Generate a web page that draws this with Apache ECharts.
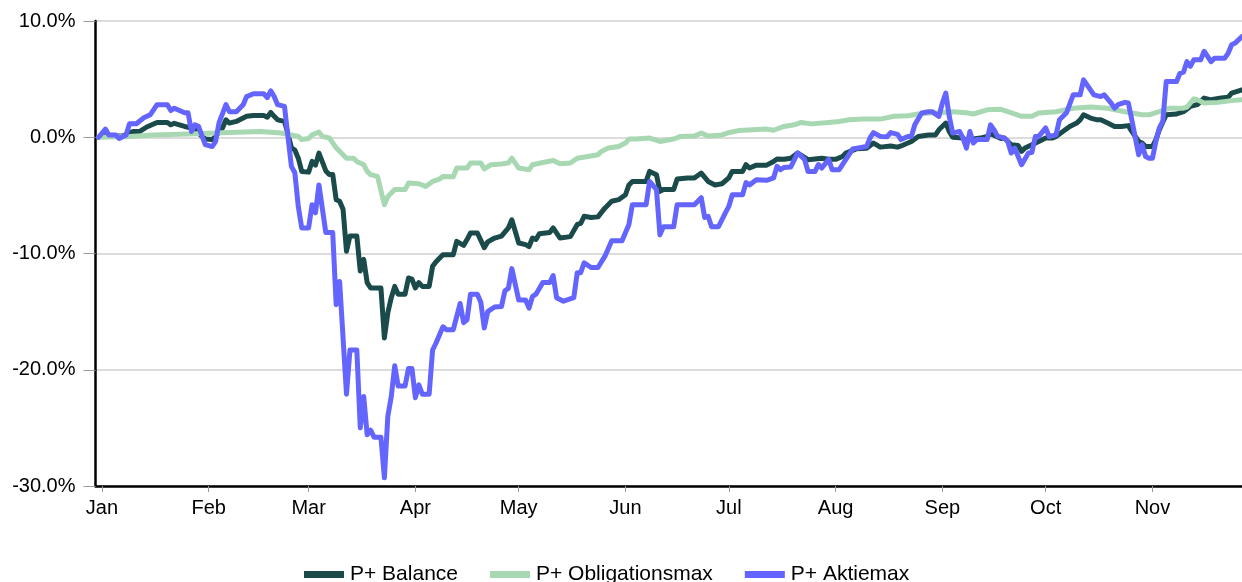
<!DOCTYPE html>
<html>
<head>
<meta charset="utf-8">
<script src="https://cdn.jsdelivr.net/npm/echarts@6/dist/echarts.min.js"></script>
<style>
html,body{margin:0;padding:0;background:#fff;}
#chart{width:1242px;height:582px;}
</style>
</head>
<body>
<div id="chart"></div>
<script>
// Cumulative return (%) per date, 2020
const seriesNames = ['P+ Balance', 'P+ Obligationsmax', 'P+ Aktiemax'];
const monthLabels = ['Jan','Feb','Mar','Apr','May','Jun','Jul','Aug','Sep','Oct','Nov','Dec'];
const yTicks = [-30, -20, -10, 0, 10];

const balance = [
['2019-12-31',0],['2020-01-02',0.2],['2020-01-05',0.1],['2020-01-07',0.1],['2020-01-09',0.36],['2020-01-10',0.5],
['2020-01-12',0.5],['2020-01-14',0.88],['2020-01-17',1.27],['2020-01-20',1.27],['2020-01-21',1.07],['2020-01-22',1.2],
['2020-01-25',0.93],['2020-01-27',0.8],['2020-01-28',0.65],['2020-01-29',0.36],['2020-01-31',-0.15],['2020-02-02',-0.2],
['2020-02-03',0.07],['2020-02-05',0.8],['2020-02-06',1.5],['2020-02-07',1.22],['2020-02-09',1.36],['2020-02-12',1.8],
['2020-02-14',1.87],['2020-02-17',1.87],['2020-02-18',1.73],['2020-02-19',2.13],['2020-02-20',1.8],['2020-02-21',1.5],
['2020-02-23',1.36],['2020-02-24',0.3],['2020-02-25',-0.9],['2020-02-26',-1.1],['2020-02-27',-1.8],['2020-02-28',-2.94],
['2020-03-01',-3.0],['2020-03-02',-2.08],['2020-03-03',-2.4],['2020-03-04',-1.36],['2020-03-06',-2.9],['2020-03-07',-3.2],
['2020-03-08',-3.2],['2020-03-09',-5.37],['2020-03-10',-5.5],['2020-03-11',-6.2],['2020-03-12',-9.8],['2020-03-13',-8.5],
['2020-03-15',-8.5],['2020-03-16',-11.5],['2020-03-17',-10.5],['2020-03-18',-12.5],['2020-03-19',-12.97],['2020-03-22',-12.97],
['2020-03-23',-17.27],['2020-03-24',-15.1],['2020-03-25',-13.8],['2020-03-26',-12.83],['2020-03-27',-13.5],['2020-03-29',-13.5],
['2020-03-30',-12.1],['2020-03-31',-12.2],['2020-04-01',-12.97],['2020-04-02',-12.5],['2020-04-03',-12.83],['2020-04-05',-12.83],
['2020-04-06',-11.1],['2020-04-07',-10.7],['2020-04-09',-10.1],['2020-04-12',-10.1],['2020-04-13',-8.96],['2020-04-15',-9.3],
['2020-04-16',-8.8],['2020-04-17',-8.24],['2020-04-19',-8.24],['2020-04-21',-9.5],['2020-04-22',-9.0],['2020-04-24',-8.67],
['2020-04-26',-8.5],['2020-04-28',-7.8],['2020-04-29',-7.1],['2020-05-01',-9.1],['2020-05-03',-9.24],['2020-05-04',-9.4],
['2020-05-05',-8.67],['2020-05-06',-8.8],['2020-05-07',-8.3],['2020-05-10',-8.2],['2020-05-11',-7.8],['2020-05-13',-8.67],
['2020-05-16',-8.55],['2020-05-18',-7.5],['2020-05-19',-7.4],['2020-05-20',-6.8],['2020-05-22',-6.9],['2020-05-24',-6.85],
['2020-05-26',-6.1],['2020-05-28',-5.5],['2020-05-30',-5.37],['2020-06-01',-4.95],['2020-06-02',-4.1],['2020-06-03',-3.8],
['2020-06-07',-3.8],['2020-06-08',-2.94],['2020-06-10',-3.22],['2020-06-11',-4.66],['2020-06-12',-4.5],['2020-06-15',-4.5],
['2020-06-16',-3.6],['2020-06-19',-3.5],['2020-06-21',-3.5],['2020-06-23',-3.08],['2020-06-25',-3.8],['2020-06-27',-4.1],
['2020-06-29',-4.0],['2020-07-01',-3.5],['2020-07-02',-2.94],['2020-07-05',-2.94],['2020-07-06',-2.36],['2020-07-07',-2.65],
['2020-07-09',-2.4],['2020-07-12',-2.4],['2020-07-14',-2.08],['2020-07-15',-1.87],['2020-07-17',-1.9],['2020-07-19',-1.8],
['2020-07-21',-1.36],['2020-07-24',-1.93],['2020-07-26',-1.87],['2020-07-28',-1.8],['2020-07-30',-1.9],['2020-08-01',-1.9],
['2020-08-03',-1.65],['2020-08-04',-1.36],['2020-08-07',-1.0],['2020-08-10',-0.95],['2020-08-12',-0.5],['2020-08-14',-0.85],
['2020-08-17',-0.75],['2020-08-19',-0.85],['2020-08-20',-0.75],['2020-08-22',-0.5],['2020-08-23',-0.36],['2020-08-25',0.07],
['2020-08-28',0.2],['2020-08-30',0.2],['2020-08-31',0.64],['2020-09-02',1.22],['2020-09-03',0.5],['2020-09-04',0.0],
['2020-09-07',-0.07],['2020-09-08',-0.36],['2020-09-09',-0.2],['2020-09-12',-0.07],['2020-09-14',0.07],['2020-09-15',0.3],
['2020-09-18',-0.1],['2020-09-19',-0.07],['2020-09-21',-0.64],['2020-09-23',-0.7],['2020-09-24',-1.22],['2020-09-25',-0.93],
['2020-09-27',-0.64],['2020-09-29',-0.36],['2020-10-01',-0.07],['2020-10-03',-0.07],['2020-10-04',0.07],['2020-10-06',0.5],
['2020-10-08',0.93],['2020-10-10',1.22],['2020-10-11',1.5],['2020-10-12',1.93],['2020-10-14',1.65],['2020-10-16',1.5],
['2020-10-17',1.5],['2020-10-19',1.22],['2020-10-21',0.93],['2020-10-23',0.93],['2020-10-25',1.0],['2020-10-26',0.5],
['2020-10-28',-0.36],['2020-10-29',-0.5],['2020-10-30',-0.8],['2020-11-01',-0.8],['2020-11-02',-0.2],['2020-11-03',0.64],
['2020-11-05',1.93],['2020-11-08',2.0],['2020-11-10',2.2],['2020-11-12',2.65],['2020-11-14',2.8],['2020-11-16',3.37],
['2020-11-18',3.22],['2020-11-21',3.37],['2020-11-23',3.44],['2020-11-24',3.8],['2020-11-27',4.08]
];

const obligationsmax = [
['2019-12-31',0],['2020-01-09',0.07],['2020-01-16',0.2],['2020-01-28',0.3],['2020-02-07',0.4],['2020-02-16',0.5],
['2020-02-22',0.36],['2020-02-25',0.2],['2020-02-27',0.07],['2020-02-28',-0.2],['2020-03-01',-0.1],['2020-03-02',0.2],
['2020-03-04',0.45],['2020-03-05',0.07],['2020-03-07',-0.05],['2020-03-09',-0.9],['2020-03-11',-1.5],['2020-03-12',-1.8],
['2020-03-14',-1.8],['2020-03-15',-2.08],['2020-03-17',-2.36],['2020-03-18',-2.94],['2020-03-19',-3.22],['2020-03-21',-3.37],
['2020-03-23',-5.8],['2020-03-24',-5.1],['2020-03-26',-4.5],['2020-03-29',-4.5],['2020-03-30',-3.94],['2020-04-02',-4.0],
['2020-04-04',-4.23],['2020-04-06',-3.8],['2020-04-08',-3.6],['2020-04-09',-3.37],['2020-04-12',-3.4],['2020-04-13',-2.65],
['2020-04-16',-2.65],['2020-04-17',-2.22],['2020-04-20',-2.22],['2020-04-21',-2.73],['2020-04-23',-2.36],['2020-04-26',-2.3],
['2020-04-28',-2.22],['2020-04-29',-1.8],['2020-05-01',-2.65],['2020-05-04',-2.8],['2020-05-05',-2.36],['2020-05-08',-2.17],
['2020-05-11',-2.0],['2020-05-13',-2.28],['2020-05-16',-2.22],['2020-05-18',-1.8],['2020-05-21',-1.65],['2020-05-24',-1.5],
['2020-05-25',-1.22],['2020-05-27',-0.93],['2020-05-30',-0.8],['2020-06-01',-0.5],['2020-06-02',-0.15],['2020-06-04',-0.15],
['2020-06-08',-0.07],['2020-06-11',-0.36],['2020-06-15',-0.15],['2020-06-17',0.07],['2020-06-21',0.1],['2020-06-23',0.36],
['2020-06-25',0.1],['2020-06-29',0.2],['2020-07-01',0.4],['2020-07-04',0.58],['2020-07-08',0.64],['2020-07-12',0.7],
['2020-07-14',0.6],['2020-07-17',0.93],['2020-07-20',1.07],['2020-07-22',1.27],['2020-07-25',1.15],['2020-07-30',1.27],
['2020-08-02',1.36],['2020-08-05',1.5],['2020-08-09',1.56],['2020-08-14',1.56],['2020-08-18',1.8],['2020-08-22',1.85],
['2020-08-25',2.0],['2020-08-28',2.08],['2020-08-31',2.1],['2020-09-04',2.2],['2020-09-08',2.1],['2020-09-10',2.0],
['2020-09-14',2.36],['2020-09-18',2.4],['2020-09-20',2.2],['2020-09-24',1.8],['2020-09-27',1.8],['2020-09-29',2.08],
['2020-10-04',2.2],['2020-10-09',2.5],['2020-10-14',2.6],['2020-10-19',2.5],['2020-10-24',2.2],['2020-10-29',1.93],
['2020-10-31',1.93],['2020-11-03',2.2],['2020-11-06',2.5],['2020-11-10',2.5],['2020-11-11',2.6],['2020-11-13',3.3],
['2020-11-14',3.22],['2020-11-16',2.94],['2020-11-20',3.0],['2020-11-24',3.15],['2020-11-27',3.22]
];

const aktiemax = [
['2019-12-31',0],['2020-01-02',0.7],['2020-01-03',0.2],['2020-01-05',0.2],['2020-01-06',-0.1],['2020-01-08',0.2],
['2020-01-09',1.16],['2020-01-11',1.16],['2020-01-13',1.65],['2020-01-15',1.93],['2020-01-17',2.8],['2020-01-20',2.8],
['2020-01-21',2.3],['2020-01-22',2.5],['2020-01-25',2.1],['2020-01-26',2.1],['2020-01-27',0.5],['2020-01-28',1.07],
['2020-01-29',0.95],['2020-01-31',-0.64],['2020-02-02',-0.8],['2020-02-03',-0.35],['2020-02-04',1.25],['2020-02-06',2.8],
['2020-02-07',2.2],['2020-02-09',2.2],['2020-02-11',2.8],['2020-02-12',3.5],['2020-02-14',3.74],['2020-02-17',3.74],
['2020-02-18',3.4],['2020-02-19',4.0],['2020-02-20',3.5],['2020-02-21',2.8],['2020-02-23',2.65],['2020-02-24',0.07],
['2020-02-25',-2.5],['2020-02-26',-3.05],['2020-02-27',-5.95],['2020-02-28',-7.8],['2020-03-01',-7.8],['2020-03-02',-5.8],
['2020-03-03',-6.5],['2020-03-04',-4.1],['2020-03-06',-8.2],['2020-03-08',-8.2],['2020-03-09',-14.4],['2020-03-10',-12.4],
['2020-03-12',-22.1],['2020-03-13',-18.3],['2020-03-15',-18.3],['2020-03-16',-25.0],['2020-03-17',-22.3],['2020-03-18',-25.6],
['2020-03-19',-25.2],['2020-03-20',-25.8],['2020-03-22',-25.8],['2020-03-23',-29.3],['2020-03-24',-24.0],['2020-03-25',-22.3],
['2020-03-26',-19.65],['2020-03-27',-21.4],['2020-03-29',-21.4],['2020-03-30',-19.9],['2020-03-31',-19.9],['2020-04-01',-22.4],
['2020-04-02',-21.3],['2020-04-03',-22.1],['2020-04-05',-22.1],['2020-04-06',-18.3],['2020-04-07',-17.7],['2020-04-09',-16.3],
['2020-04-10',-16.55],['2020-04-12',-16.55],['2020-04-14',-14.3],['2020-04-15',-15.95],['2020-04-16',-15.7],['2020-04-17',-13.5],
['2020-04-19',-13.5],['2020-04-20',-14.2],['2020-04-21',-16.4],['2020-04-22',-15.0],['2020-04-24',-14.6],['2020-04-26',-14.55],
['2020-04-27',-13.2],['2020-04-28',-13.0],['2020-04-29',-11.3],['2020-05-01',-14.0],['2020-05-03',-14.0],['2020-05-04',-14.7],
['2020-05-05',-13.7],['2020-05-06',-13.5],['2020-05-08',-12.5],['2020-05-10',-12.5],['2020-05-11',-11.9],['2020-05-12',-13.8],
['2020-05-14',-14.1],['2020-05-17',-13.8],['2020-05-18',-11.65],['2020-05-19',-11.65],['2020-05-20',-10.8],['2020-05-22',-11.2],
['2020-05-24',-11.2],['2020-05-26',-10.25],['2020-05-28',-8.9],['2020-05-31',-8.9],['2020-06-02',-7.5],['2020-06-03',-5.8],
['2020-06-07',-5.8],['2020-06-08',-3.8],['2020-06-10',-4.5],['2020-06-11',-8.4],['2020-06-12',-7.7],['2020-06-15',-7.7],
['2020-06-16',-5.8],['2020-06-21',-5.8],['2020-06-23',-5.2],['2020-06-24',-6.9],['2020-06-25',-6.8],['2020-06-26',-7.7],
['2020-06-28',-7.7],['2020-06-30',-6.5],['2020-07-01',-5.95],['2020-07-02',-4.95],['2020-07-05',-4.95],['2020-07-06',-3.9],
['2020-07-07',-4.1],['2020-07-09',-3.65],['2020-07-12',-3.7],['2020-07-14',-3.5],['2020-07-15',-2.5],['2020-07-16',-2.8],
['2020-07-17',-2.6],['2020-07-19',-2.55],['2020-07-21',-1.35],['2020-07-23',-1.9],['2020-07-24',-2.95],['2020-07-26',-2.95],
['2020-07-27',-2.35],['2020-07-28',-2.65],['2020-07-30',-1.9],['2020-07-31',-2.8],['2020-08-02',-2.8],['2020-08-04',-1.9],
['2020-08-06',-1.0],['2020-08-10',-0.8],['2020-08-11',-0.05],['2020-08-12',0.4],['2020-08-14',0.07],['2020-08-16',0.05],
['2020-08-17',0.4],['2020-08-19',0.25],['2020-08-20',-0.2],['2020-08-22',0.07],['2020-08-23',0.07],['2020-08-24',1.07],
['2020-08-26',2.08],['2020-08-28',2.2],['2020-08-29',2.2],['2020-08-31',1.8],['2020-09-01',2.94],['2020-09-02',3.8],
['2020-09-03',1.8],['2020-09-04',0.36],['2020-09-06',0.5],['2020-09-07',-0.07],['2020-09-08',-0.93],['2020-09-09',0.5],
['2020-09-10',-0.5],['2020-09-11',-0.2],['2020-09-14',-0.2],['2020-09-15',1.07],['2020-09-16',0.64],['2020-09-17',0.1],
['2020-09-19',-0.07],['2020-09-20',-0.36],['2020-09-21',-1.36],['2020-09-22',-0.93],['2020-09-24',-2.36],['2020-09-26',-1.36],
['2020-09-27',-1.3],['2020-09-28',0.07],['2020-09-29',0.07],['2020-10-01',0.8],['2020-10-02',0.07],['2020-10-04',0.2],
['2020-10-05',1.5],['2020-10-07',2.08],['2020-10-09',3.65],['2020-10-11',3.65],['2020-10-12',4.94],['2020-10-13',4.5],
['2020-10-15',3.65],['2020-10-17',3.5],['2020-10-18',3.65],['2020-10-20',2.94],['2020-10-21',2.5],['2020-10-22',2.8],
['2020-10-24',3.0],['2020-10-25',2.94],['2020-10-26',1.5],['2020-10-28',-1.5],['2020-10-29',-0.64],['2020-10-30',-1.65],
['2020-10-31',-1.8],['2020-11-01',-1.8],['2020-11-02',-0.36],['2020-11-03',0.8],['2020-11-04',1.36],['2020-11-05',4.8],
['2020-11-08',4.8],['2020-11-09',5.5],['2020-11-10',5.6],['2020-11-11',6.5],['2020-11-12',6.1],['2020-11-13',6.66],
['2020-11-15',6.66],['2020-11-16',7.4],['2020-11-18',6.5],['2020-11-19',6.8],['2020-11-22',6.8],['2020-11-23',7.24],
['2020-11-24',7.95],['2020-11-25',8.1],['2020-11-27',8.67]
];

const colors = ['#1b4a4a', '#a8d8b2', '#6464ff'];
const DAY = 86400000;

const chart = echarts.init(document.getElementById('chart'), null, {renderer: 'canvas'});
const fontFamily = '"Liberation Sans", Arial, sans-serif';

chart.setOption({
  animation: false,
  backgroundColor: '#ffffff',
  color: colors,
  grid: {left: 95.5, right: 0, top: 21, bottom: 96, containLabel: false},
  legend: {
    left: 299, top: 559,
    icon: 'rect', itemWidth: 40, itemHeight: 7, itemGap: 32,
    textStyle: {fontSize: 21, color: '#000', fontFamily: fontFamily, padding: [0,0,0,1]},
    data: seriesNames
  },
  xAxis: {
    type: 'time',
    min: new Date(2019, 11, 30, 3).getTime(),
    max: new Date(2020, 10, 27).getTime(),
    splitNumber: 12,
    minInterval: 28 * DAY,
    maxInterval: 31 * DAY,
    axisLine: {show: true, onZero: false, lineStyle: {color: '#000', width: 2.5}},
    axisTick: {show: true, length: 6, lineStyle: {color: '#999', width: 1}},
    splitLine: {show: false},
    axisLabel: {
      fontSize: 20, color: '#000', fontFamily: fontFamily, margin: 12,
      hideOverlap: false,
      formatter: function (v) { return monthLabels[new Date(v).getMonth()]; }
    }
  },
  yAxis: {
    type: 'value',
    min: yTicks[0], max: yTicks[yTicks.length - 1], interval: 10,
    axisLine: {show: true, lineStyle: {color: '#000', width: 2.5}},
    axisTick: {show: true, length: 12, lineStyle: {color: '#999', width: 1}},
    splitLine: {show: true, lineStyle: {color: '#dcdcdc', width: 2}},
    axisLabel: {
      fontSize: 20, color: '#000', fontFamily: fontFamily, margin: 20,
      formatter: function (v) { return v.toFixed(1) + '%'; }
    }
  },
  series: [
    {name: seriesNames[0], type: 'line', data: balance, showSymbol: false, symbol: 'none',
     lineStyle: {width: 5, color: colors[0], cap: 'round', join: 'round'}, z: 2},
    {name: seriesNames[1], type: 'line', data: obligationsmax, showSymbol: false, symbol: 'none',
     lineStyle: {width: 5, color: colors[1], cap: 'round', join: 'round'}, z: 3},
    {name: seriesNames[2], type: 'line', data: aktiemax, showSymbol: false, symbol: 'none',
     lineStyle: {width: 5, color: colors[2], cap: 'round', join: 'round'}, z: 4}
  ]
});
</script>
</body>
</html>
